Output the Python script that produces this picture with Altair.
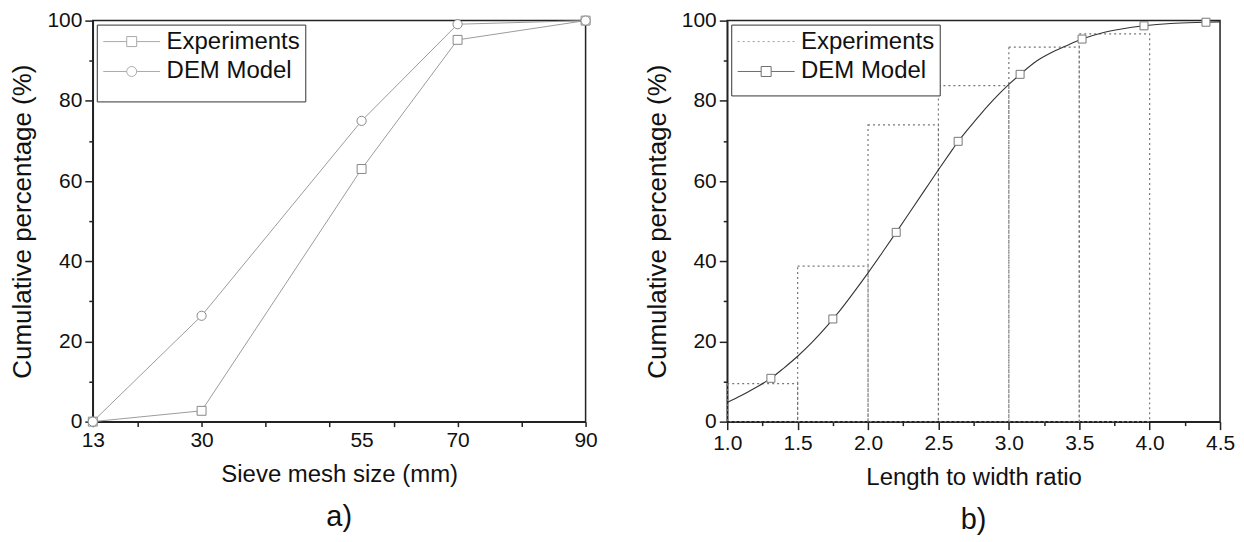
import altair as alt
import pandas as pd

FONT = "Liberation Sans"

# ---------------- Panel a) data ----------------
sieve_sizes = [13, 30, 55, 70, 90]
exp_a = [0.0, 2.7, 63.0, 95.2, 100.0]
dem_a = [0.0, 26.4, 75.0, 99.1, 100.0]
series_names = ["Experiments", "DEM Model"]

# ---------------- Panel b) data ----------------
bin_start = [1.0, 1.5, 2.0, 2.5, 3.0, 3.5]
bin_end = [1.5, 2.0, 2.5, 3.0, 3.5, 4.0]
exp_b = [9.5, 38.8, 74.0, 83.8, 93.4, 96.7]

curve_x = [1.0, 1.1, 1.2, 1.31, 1.4, 1.5, 1.6, 1.7, 1.75, 1.8, 1.9, 2.0, 2.1, 2.2, 2.3,
           2.4, 2.5, 2.6, 2.64, 2.7, 2.8, 2.9, 3.0, 3.08, 3.2, 3.3, 3.4, 3.52, 3.66,
           3.8, 3.96, 4.15, 4.4, 4.5]
curve_y = [4.8, 6.5, 8.45, 10.8, 13.3, 16.3, 19.7, 23.5, 25.6, 27.7, 32.3, 37.1, 42.1,
           47.2, 52.4, 57.6, 62.8, 67.9, 69.9, 72.5, 76.7, 80.6, 84.1, 86.6, 90.0,
           92.0, 93.6, 95.4, 96.9, 97.9, 98.7, 99.3, 99.6, 99.7]
marker_x = [1.31, 1.75, 2.2, 2.64, 3.08, 3.52, 3.96, 4.4]
marker_y = [10.8, 25.6, 47.2, 69.9, 86.6, 95.4, 98.7, 99.6]

y_ticks = list(range(0, 101, 10))
xa_ticks = [13, 20, 30, 40, 50, 55, 60, 70, 80, 90]
xb_ticks = [1.0 + 0.25 * i for i in range(15)]


# ---------------- legend symbol paths (unit square coords) ----------------
def stub_path(inner, half=5.7):
    return f"M{-half},0H-1M1,0H{half}" + inner


def dotted_path(half=5.7, dash=0.4, gap=0.6):
    parts = []
    x = -half
    while x < half:
        parts.append(f"M{x:.2f},0H{min(x + dash, half):.2f}")
        x += dash + gap
    return "".join(parts)


square_sym = stub_path("M-1,-1H1V1H-1Z")
circle_sym = stub_path("M1,0A1,1,0,1,1,-1,0A1,1,0,1,1,1,0Z")
dotted_sym = dotted_path()


def legend_params(title_size):
    return alt.Legend(
        title=" ", titleOrient="bottom", titleFontSize=title_size, titlePadding=2,
        orient="top-left", offset=4, fillColor="white", strokeColor="#333",
        padding=5, symbolSize=100, symbolOffset=18, labelOffset=23,
        labelFontSize=24, labelFont=FONT, labelColor="#111", rowPadding=6,
        symbolStrokeWidth=1, labelLimit=300,
    )


y_axis = alt.Axis(
    values=y_ticks,
    labelExpr="datum.value % 20 == 0 ? datum.label : ''",
    tickSize={"condition": {"test": "datum.value % 20 == 0", "value": 8}, "value": 4},
    title="Cumulative percentage (%)",
)

# ---------------- Panel a) ----------------
df_a = pd.DataFrame({
    "size": sieve_sizes * 2,
    "pct": exp_a + dem_a,
    "series": [series_names[0]] * len(sieve_sizes) + [series_names[1]] * len(sieve_sizes),
})

xa = alt.X(
    "size:Q",
    scale=alt.Scale(domain=[13, 90], nice=False, zero=False),
    axis=alt.Axis(
        values=xa_ticks,
        labelExpr="indexof([13, 30, 55, 70, 90], datum.value) >= 0 ? datum.label : ''",
        tickOpacity={"condition": {"test": "datum.value == 55", "value": 0}, "value": 1},
        title="Sieve mesh size (mm)",
    ),
)
ya = alt.Y("pct:Q", scale=alt.Scale(domain=[0, 100], nice=False), axis=y_axis)

base_a = alt.Chart(df_a)
lines_a = base_a.mark_line(color="#9c9c9c", strokeWidth=1).encode(
    x=xa, y=ya, detail="series:N"
)
pts_exp_a = base_a.transform_filter(alt.datum.series == series_names[0]).mark_point(
    shape="square", size=80, filled=True, fill="white", stroke="#888", strokeWidth=1, opacity=1
).encode(x=xa, y=ya)
pts_dem_a = base_a.transform_filter(alt.datum.series == series_names[1]).mark_point(
    shape="circle", size=85, filled=True, fill="white", stroke="#888", strokeWidth=1, opacity=1
).encode(x=xa, y=ya)

leg_df = pd.DataFrame({"series": series_names})
legend_a = alt.Chart(leg_df).transform_filter("false").mark_point(
    filled=False, color="#888", strokeWidth=1
).encode(
    shape=alt.Shape("series:N", scale=alt.Scale(domain=series_names, range=[square_sym, circle_sym]),
                    legend=legend_params(12))
)

panel_a = alt.layer(lines_a, pts_exp_a, pts_dem_a, legend_a).properties(
    width=494, height=402,
    title=alt.TitleParams("a)", orient="bottom", frame="group", fontSize=29, font=FONT,
                          fontWeight="normal", color="#111", offset=17),
)

# ---------------- Panel b) ----------------
df_bins = pd.DataFrame({"x0": bin_start, "x1": bin_end, "pct": exp_b})
df_curve = pd.DataFrame({"x": curve_x, "pct": curve_y})
df_mark = pd.DataFrame({"x": marker_x, "pct": marker_y})

xb_axis = alt.Axis(
    values=xb_ticks,
    labelExpr="(datum.value * 2) % 1 == 0 ? format(datum.value, '.1f') : ''",
    tickSize={"condition": {"test": "(datum.value * 2) % 1 == 0", "value": 8}, "value": 4},
    title="Length to width ratio",
)
xb_scale = alt.Scale(domain=[1.0, 4.5], nice=False, zero=False)
yb_scale = alt.Scale(domain=[0, 100], nice=False)

bars_b = alt.Chart(df_bins).mark_rect(
    fill="transparent", stroke="#777", strokeWidth=1.2, strokeDash=[2, 3]
).encode(
    x=alt.X("x0:Q", scale=xb_scale, axis=xb_axis),
    x2="x1:Q",
    y=alt.Y("pct:Q", scale=yb_scale, axis=y_axis),
    y2=alt.datum(0),
)
curve_b = alt.Chart(df_curve).mark_line(color="#333", strokeWidth=1.1, interpolate="monotone").encode(
    x=alt.X("x:Q", scale=xb_scale, axis=xb_axis),
    y=alt.Y("pct:Q", scale=yb_scale, axis=y_axis),
)
pts_b = alt.Chart(df_mark).mark_point(
    shape="square", size=64, filled=True, fill="white", stroke="#777", strokeWidth=1, opacity=1
).encode(
    x=alt.X("x:Q", scale=xb_scale, axis=xb_axis),
    y=alt.Y("pct:Q", scale=yb_scale, axis=y_axis),
)
leg_b_params = legend_params(5)
legend_b = alt.Chart(leg_df).transform_filter("false").mark_point(
    filled=False, strokeWidth=1
).encode(
    shape=alt.Shape("series:N", scale=alt.Scale(domain=series_names, range=[dotted_sym, square_sym]),
                    legend=leg_b_params),
    color=alt.Color("series:N", scale=alt.Scale(domain=series_names, range=["#777", "#333"]),
                    legend=leg_b_params),
)

panel_b = alt.layer(bars_b, curve_b, pts_b, legend_b).properties(
    width=494, height=402,
    title=alt.TitleParams("b)", orient="bottom", frame="group", fontSize=29, font=FONT,
                          fontWeight="normal", color="#111", offset=17),
)

chart = alt.hconcat(panel_a, panel_b, spacing=45).resolve_scale(
    shape="independent", color="independent"
).properties(
    padding={"left": 1, "top": 0, "right": 0, "bottom": 0}
).configure_view(
    stroke="#222", strokeWidth=1.5
).configure_axis(
    grid=False, labelFont=FONT, titleFont=FONT, labelFontSize=21, titleFontSize=24,
    titleFontWeight="normal", labelColor="#111", titleColor="#111",
    domainColor="#222", tickColor="#222", domainWidth=1.5, tickWidth=1.5,
    labelPadding=3, labelOverlap=False, labelFlush=False, zindex=1,
).configure_axisLeft(titlePadding=11, titleFontSize=26).configure_axisBottom(titlePadding=12)

chart.save("out.html", embed_options={"renderer": "svg", "actions": False})
